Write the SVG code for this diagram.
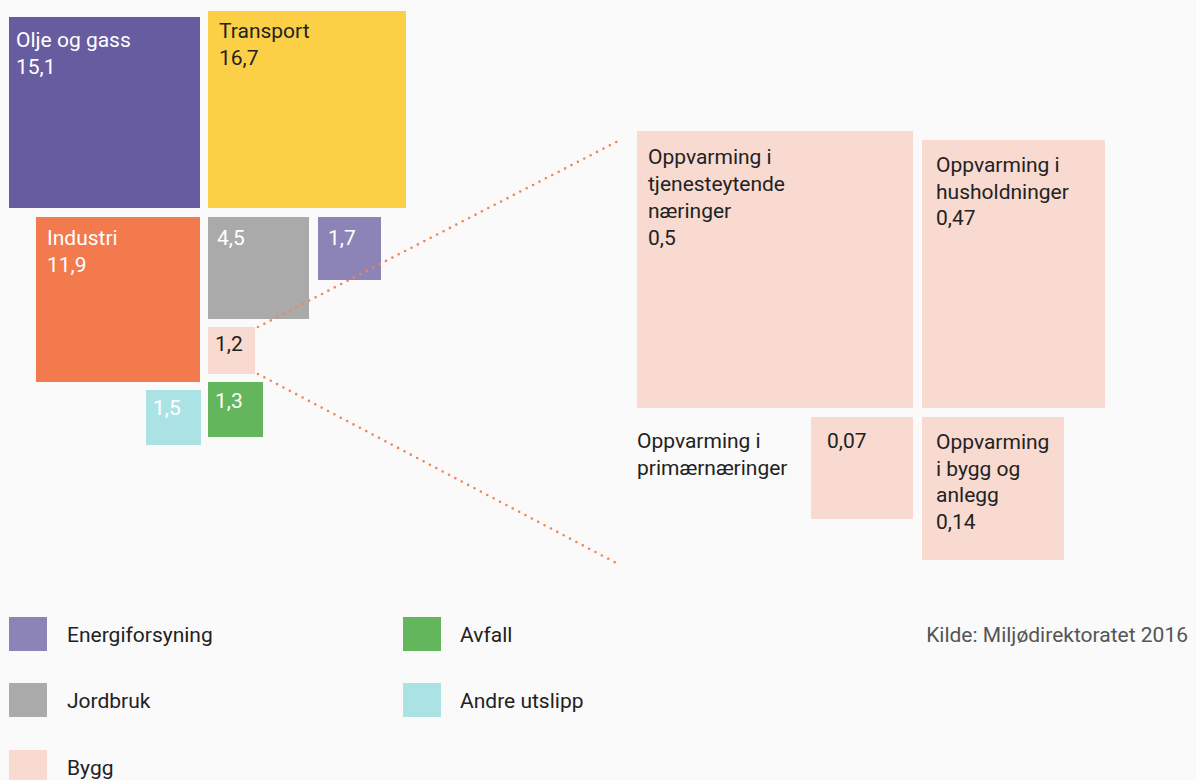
<svg xmlns="http://www.w3.org/2000/svg" width="1196" height="780" viewBox="0 0 1196 780">
<style>
text{font-family:Roboto,"Liberation Sans",sans-serif;font-size:21px}
.w{fill:#ffffff}
.d{fill:#222222}
.lg{fill:#222222}
.src{fill:#555555}
.dot{fill:none;stroke:#F08558;stroke-width:2.6;stroke-linecap:round;stroke-dasharray:0 7.2}
</style>
<rect width="1196" height="780" fill="#FAFAFA"/>
<g id="olje"><rect x="9" y="17" width="191" height="191" fill="#675CA0"/><text class="w" x="16" y="47">Olje og gass</text><text class="w" x="16" y="74">15,1</text></g>
<g id="transport"><rect x="208" y="11" width="198" height="197" fill="#FBD046"/><text class="d" x="219" y="38">Transport</text><text class="d" x="219" y="65">16,7</text></g>
<g id="industri"><rect x="36" y="217" width="164" height="165" fill="#F27A4C"/><text class="w" x="47" y="245">Industri</text><text class="w" x="47" y="272">11,9</text></g>
<g id="jordbruk"><rect x="208" y="217" width="101" height="102" fill="#AAAAAA"/><text class="w" x="217" y="245">4,5</text></g>
<g id="energi"><rect x="318" y="217" width="63" height="63" fill="#8C84B6"/><text class="w" x="328" y="245">1,7</text></g>
<g id="bygg"><rect x="208" y="327" width="47" height="47" fill="#F8DAD0"/><text class="d" x="215" y="351">1,2</text></g>
<g id="andre"><rect x="146" y="390" width="55" height="55" fill="#ABE3E5"/><text class="w" x="153" y="415">1,5</text></g>
<g id="avfall"><rect x="208" y="382" width="55" height="55" fill="#63B65C"/><text class="w" x="215" y="408">1,3</text></g>
<g id="tjeneste"><rect x="637" y="131" width="276" height="277" fill="#F8DAD0"/><text class="d" x="648" y="164">Oppvarming i</text><text class="d" x="648" y="191">tjenesteytende</text><text class="d" x="648" y="218">næringer</text><text class="d" x="648" y="245">0,5</text></g>
<g id="husholdninger"><rect x="922" y="140" width="183" height="268" fill="#F8DAD0"/><text class="d" x="936" y="172">Oppvarming i</text><text class="d" x="936" y="199">husholdninger</text><text class="d" x="936" y="225">0,47</text></g>
<g id="primaer"><rect x="811" y="417" width="102" height="102" fill="#F8DAD0"/><text class="d" x="827" y="448">0,07</text><text class="d" x="637" y="448">Oppvarming i</text><text class="d" x="637" y="475">primærnæringer</text></g>
<g id="anlegg"><rect x="922" y="417" width="142" height="143" fill="#F8DAD0"/><text class="d" x="936" y="449">Oppvarming</text><text class="d" x="936" y="476">i bygg og</text><text class="d" x="936" y="502">anlegg</text><text class="d" x="936" y="529">0,14</text></g>
<g id="connectors">
<line class="dot" x1="258" y1="327" x2="622" y2="139"/>
<line class="dot" x1="258" y1="374" x2="620" y2="565"/>
</g>
<g id="legend">
<rect x="9" y="617" width="38" height="34" fill="#8C84B6"/><text class="lg" x="67" y="642">Energiforsyning</text>
<rect x="9" y="683" width="38" height="34" fill="#AAAAAA"/><text class="lg" x="67" y="708">Jordbruk</text>
<rect x="9" y="750" width="38" height="34" fill="#F8DAD0"/><text class="lg" x="67" y="775">Bygg</text>
<rect x="403" y="617" width="38" height="34" fill="#63B65C"/><text class="lg" x="460" y="642">Avfall</text>
<rect x="403" y="683" width="38" height="34" fill="#ABE3E5"/><text class="lg" x="460" y="708">Andre utslipp</text>
</g>
<text class="src" x="1188" y="642" text-anchor="end" font-size="20">Kilde: Miljødirektoratet 2016</text>
</svg>
